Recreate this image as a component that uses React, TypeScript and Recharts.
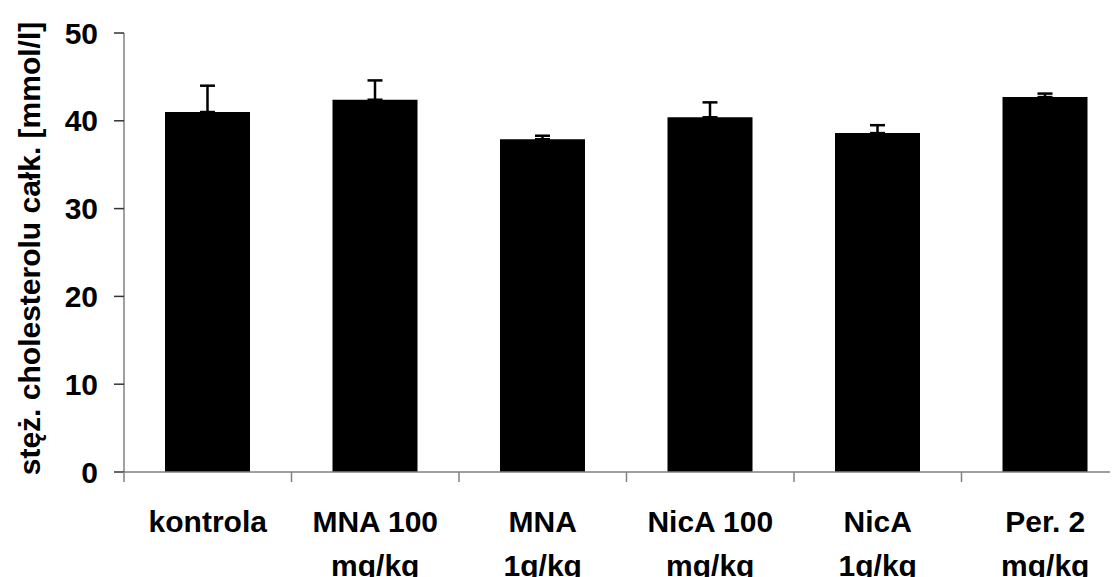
import React from "react";
import { BarChart, Bar, XAxis, YAxis, ErrorBar } from "recharts";

const categories = ["kontrola", "MNA 100 mg/kg", "MNA 1g/kg", "NicA 100 mg/kg", "NicA 1g/kg", "Per. 2 mg/kg"];
const labelLines = [
  ["kontrola"],
  ["MNA 100", "mg/kg"],
  ["MNA", "1g/kg"],
  ["NicA 100", "mg/kg"],
  ["NicA", "1g/kg"],
  ["Per. 2", "mg/kg"],
];
const means = [41.0, 42.4, 37.9, 40.4, 38.6, 42.7];
const sdUpper = [3.0, 2.2, 0.4, 1.7, 0.9, 0.4];
const yTicks = [0, 10, 20, 30, 40, 50];
const yLabel = "stęż. cholesterolu całk. [mmol/l]";

const data = categories.map((c, i) => ({
  name: c,
  idx: i,
  value: means[i],
  err: [0, sdUpper[i]],
}));

const FONT = "'Liberation Sans', Arial, sans-serif";
const AXIS_COLOR = "#808080";
const CHART_W = 1121;
const CHART_H = 600;
const Y_AXIS_W = 116;
const MARGIN = { top: 25, right: 0, bottom: 16, left: 0 };
const BAND = (CHART_W - Y_AXIS_W - MARGIN.left - MARGIN.right) / categories.length;

const XTick = (props: any) => {
  const { x, y, payload } = props;
  const lines = labelLines[payload.index] || [String(payload.value)];
  const bx = x - BAND / 2;
  return (
    <g>
      <line x1={bx} y1={y} x2={bx} y2={y + 10} stroke={AXIS_COLOR} strokeWidth={1.5} />
      {lines.map((l: string, i: number) => (
        <text
          key={i}
          x={x}
          y={y + 60 + i * 44}
          textAnchor="middle"
          fontFamily={FONT}
          fontWeight="bold"
          fontSize={30}
          fill="#000"
        >
          {l}
        </text>
      ))}
    </g>
  );
};

const YLabel = (props: any) => {
  const vb = props.viewBox || { y: 25, height: 439 };
  const cy = vb.y + vb.height / 2 - 4;
  const cx = 32;
  return (
    <text
      x={cx}
      y={cy}
      transform={`rotate(-90, ${cx}, ${cy})`}
      textAnchor="middle"
      fontFamily={FONT}
      fontWeight="bold"
      fontSize={30}
      fill="#000"
    >
      {yLabel}
    </text>
  );
};

export default function App() {
  return (
    <div style={{ width: 1110, height: 569, overflow: "hidden", background: "#fff" }}>
      <BarChart width={CHART_W} height={CHART_H} data={data} margin={MARGIN} barSize={85}>
        <XAxis
          dataKey="name"
          interval={0}
          tickSize={0}
          tickMargin={0}
          tickLine={false}
          axisLine={{ stroke: AXIS_COLOR, strokeWidth: 1.5 }}
          height={CHART_H - MARGIN.top - MARGIN.bottom - 439}
          tick={<XTick />}
        />
        <YAxis
          type="number"
          domain={[0, 50]}
          ticks={yTicks}
          interval={0}
          width={Y_AXIS_W}
          tickSize={10}
          tickMargin={16}
          axisLine={{ stroke: AXIS_COLOR, strokeWidth: 1.5 }}
          tickLine={{ stroke: "#333", strokeWidth: 1.5 }}
          tick={{ fontSize: 30, fontWeight: "bold", fill: "#000", fontFamily: FONT }}
          label={<YLabel />}
        />
        <Bar dataKey="value" fill="#000" isAnimationActive={false}>
          <ErrorBar dataKey="err" width={7.5} stroke="#000" strokeWidth={2.5} direction="y" />
        </Bar>
      </BarChart>
    </div>
  );
}
